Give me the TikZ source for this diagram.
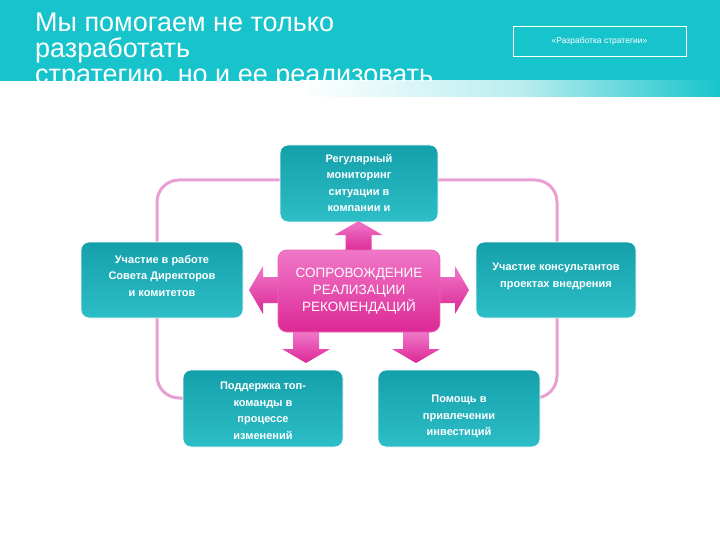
\documentclass[tikz,border=0pt]{standalone}
\usepackage{fontspec}
\setmainfont{Liberation Sans}
\definecolor{teal1}{RGB}{23,196,204}
\definecolor{boxtop}{RGB}{20,160,170}
\definecolor{boxbot}{RGB}{45,190,200}
\definecolor{pinkA}{RGB}{220,40,150}
\definecolor{pinkB}{RGB}{240,120,200}
\definecolor{loopc}{RGB}{232,160,210}
\tikzset{
 tbox/.style={rounded corners=8pt, top color=boxtop, bottom color=boxbot, draw=white, line width=0.8pt},
 ttext/.style={text=white, font=\bfseries\fontsize{11}{16.5}\selectfont, align=center, inner sep=0pt},
 barrow/.style={top color=pinkB, bottom color=pinkA}
}
\newcommand{\blockarrow}[2]{%
 \begin{scope}[shift={#1}, rotate=#2]
 \path[barrow] (-13,0) -- (-13,-17) -- (-24,-17) -- (0,-31) -- (24,-17) -- (13,-17) -- (13,0) -- cycle;
 \end{scope}}
\begin{document}
\begin{tikzpicture}[x=1pt,y=-1pt]
\useasboundingbox (0,0) rectangle (720,540);
\fill[white] (0,0) rectangle (720,540);
% header
\fill[teal1] (0,0) rectangle (720,81);
\shade[left color=white, right color=white!70!teal1] (300,81) rectangle (520,97);
\shade[left color=white!70!teal1, right color=teal1] (520,81) rectangle (720,97);
\begin{scope}
\clip (0,0) rectangle (720,81);
\node[anchor=north west, text=white, align=left, inner sep=0pt, font=\fontsize{27}{26}\selectfont] (title) at (35,13) {Мы помогаем не только\\разработать\\стратегию, но и ее реализовать};
\end{scope}
\node[draw=white, line width=0.6pt, minimum width=173pt, minimum height=30pt, text=white, font=\fontsize{8.5}{10}\selectfont] (tag) at (599.5,41) {«Разработка стратегии»};
% loop
\draw[loopc, line width=3pt, rounded corners=22pt] (280,180) -- (157,180) -- (157,398) -- (190,398);
\draw[loopc, line width=3pt, rounded corners=22pt] (438,180) -- (557,180) -- (557,398) -- (530,398);
% boxes
\newcommand{\tb}[7]{%
 \path[tbox] (#1,#2) rectangle (#3,#4);
 \begin{scope}\clip[rounded corners=8pt] (#1,#2) rectangle (#3,#4);
 \node[ttext, anchor=north] (#5) at ({(#1+#3)/2},#6) {#7};
 \end{scope}}
\tb{280}{145}{438}{222}{top}{154}{Регулярный\\мониторинг\\ситуации в\\компании и\\отрасли}
\tb{81}{242}{243}{318}{left}{255}{Участие в работе\\Совета Директоров\\и комитетов}
\tb{476}{242}{636}{318}{rightb}{260}{}
\node[ttext, anchor=north] (rt) at (556,263) {Участие консультантов\\ проектах внедрения};
\tb{183}{370}{343}{447}{bl}{382}{Поддержка топ-\\команды в\\процессе\\изменений}
\tb{378}{370}{540}{447}{br}{395}{Помощь в\\привлечении\\инвестиций}
% arrows
\blockarrow{(358.5,252)}{0}
\blockarrow{(280,290)}{90}
\blockarrow{(438,290)}{-90}
\blockarrow{(306,332)}{180}
\blockarrow{(416,332)}{180}
% center
\path[rounded corners=9pt, top color=pinkB, bottom color=pinkA, draw=pinkA!70!white, line width=0.8pt] (278,250) rectangle (440,332);
\node[text=white, align=center, font=\fontsize{13.5}{17}\selectfont] (c) at (359,291) {СОПРОВОЖДЕНИЕ\\РЕАЛИЗАЦИИ\\РЕКОМЕНДАЦИЙ};
\end{tikzpicture}
\end{document}
